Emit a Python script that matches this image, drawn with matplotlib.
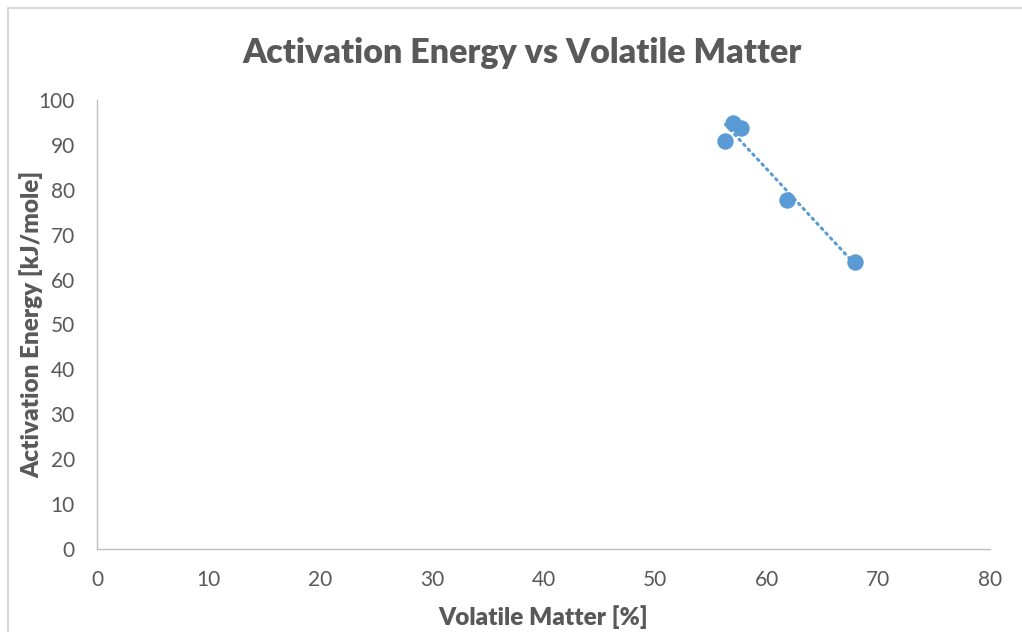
#!/usr/bin/env python3

# Scatter of activation energy over volatile matter, with a linear trendline

import matplotlib.pyplot as plt
import numpy as np
from matplotlib.patches import Rectangle

volatile_matter = [56.3, 57.0, 57.7, 61.8, 67.9]
activation_energy = [90.9, 94.9, 93.8, 77.7, 63.9]

x_ticks = [0, 10, 20, 30, 40, 50, 60, 70, 80]
y_ticks = [0, 10, 20, 30, 40, 50, 60, 70, 80, 90, 100]


def main():
    plt.rcParams['font.family'] = ['Lato', 'DejaVu Sans']
    text_grey = '#595959'
    blue = '#5b9bd5'

    fig = plt.figure(figsize=(10.22, 6.32), dpi=100)
    ax = fig.add_axes([97 / 1022, 1 - 549 / 632, (990 - 97) / 1022, (549 - 100) / 632])

    # outer chart frame
    fig.patches.append(Rectangle((8 / 1022, -0.01), 1.02, 1 - 8 / 632 + 0.01,
                                 transform=fig.transFigure, fill=False,
                                 edgecolor='#d9d9d9', linewidth=1.5))

    x = np.array(volatile_matter)
    y = np.array(activation_energy)
    slope, intercept = np.polyfit(x, y, 1)
    xs = np.array([x.min(), x.max()])
    ax.plot(xs, slope * xs + intercept, linestyle=(0, (0.6, 1.6)), color=blue,
            linewidth=2.2, dash_capstyle='round', zorder=2)
    ax.scatter(x, y, s=140, color=blue, zorder=3, linewidths=0)

    ax.set_xlim(0, 80)
    ax.set_ylim(0, 100)
    ax.set_xticks(x_ticks)
    ax.set_yticks(y_ticks)
    ax.tick_params(length=0, labelsize=15, colors=text_grey)
    ax.tick_params(axis='x', pad=15)
    ax.tick_params(axis='y', pad=16)
    for side in ['top', 'right']:
        ax.spines[side].set_visible(False)
    for side in ['left', 'bottom']:
        ax.spines[side].set_color('#bfbfbf')
        ax.spines[side].set_linewidth(1)

    ax.set_xlabel('Volatile Matter [%]', fontsize=17.5, fontweight='heavy',
                  color=text_grey, labelpad=11)
    ax.set_ylabel('Activation Energy [kJ/mole]', fontsize=17.5, fontweight='heavy',
                  color=text_grey)
    ax.yaxis.set_label_coords(-54 / 893, 0.5)
    fig.text(522 / 1022, 1 - 53 / 632, 'Activation Energy vs Volatile Matter',
             ha='center', va='center', fontsize=24.5, fontweight='heavy', color=text_grey)

    fig.savefig('out.png', dpi=100)


if __name__ == "__main__":
    main()
